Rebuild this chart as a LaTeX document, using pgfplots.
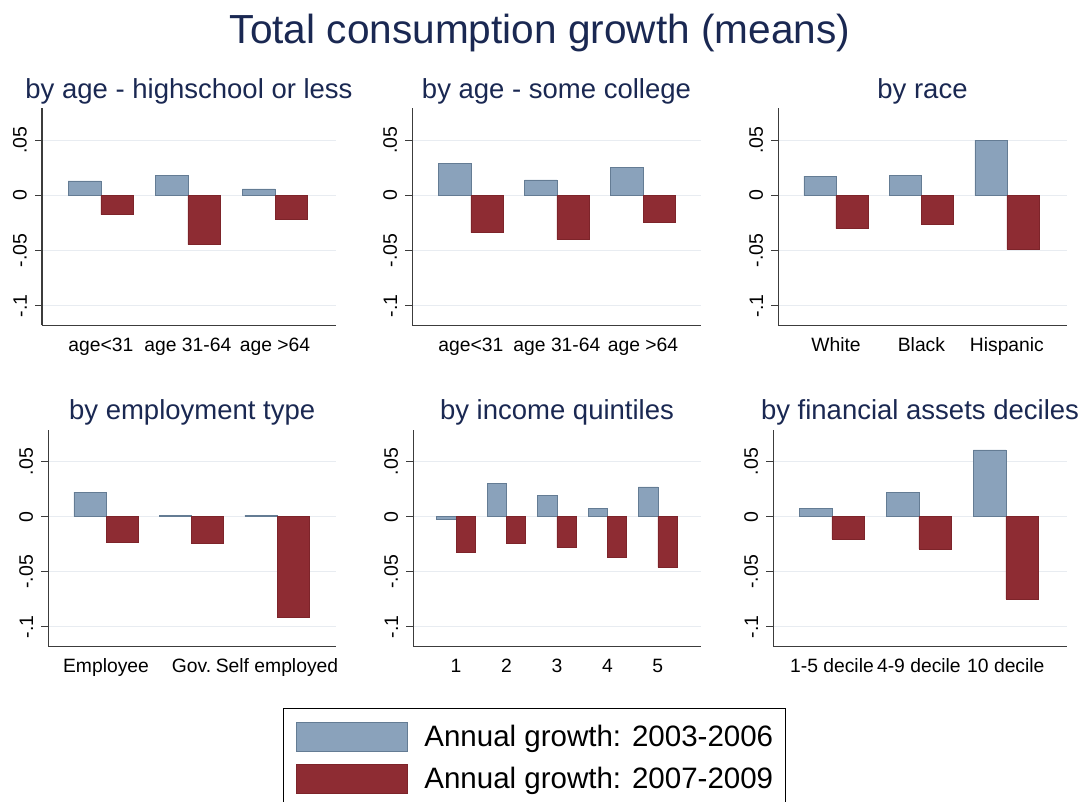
\documentclass[border=0pt]{standalone}
\usepackage{fontspec}
\setmainfont{Liberation Sans}
\usepackage{pgfplots}
\pgfplotsset{compat=1.18}

\definecolor{barblue}{RGB}{138,162,187}
\definecolor{barblueedge}{RGB}{100,124,148}
\definecolor{barred}{RGB}{142,44,51}
\definecolor{barrededge}{RGB}{125,36,42}
\definecolor{titlenavy}{RGB}{26,40,82}
\definecolor{gridc}{RGB}{232,236,241}
\definecolor{axisc}{RGB}{60,60,60}

\pgfplotsset{
  panel/.style={
    scale only axis, height=217pt, anchor=south west,
    ymin=-0.118, ymax=0.079,
    ytick={-0.1,-0.05,0,0.05}, yticklabels={-.1,-.05,0,.05},
    axis x line*=bottom, axis y line*=left,
    axis line style={axisc, line width=1.3pt},
    ymajorgrids, grid style={gridc, line width=1pt},
    tick align=outside, major tick length=7pt,
    xtick style={draw=none}, ytick style={axisc, line width=1pt},
    /pgf/number format/assume math mode=true,
    yticklabel style={rotate=90, anchor=south, inner sep=0pt, font=\fontsize{19.5}{20}\selectfont},
    yticklabel shift=8pt,
    xticklabel style={anchor=base, inner sep=0pt, font=\fontsize{19.3}{20}\selectfont},
    xticklabel shift=19pt,
    title style={at={(0.5,1)}, anchor=base, yshift=4pt, inner sep=0pt, text=titlenavy, font=\fontsize{27.5}{28}\selectfont},
  },
  legpatch/.style={legend image code/.code={\draw[##1,line width=0.8pt] (0pt,-14.25pt) rectangle (111pt,14.25pt);}},
  bblue/.style={ybar, bar width=0.375, bar shift=-0.1875, fill=barblue, draw=barblueedge, line width=0.6pt, legpatch},
  bred/.style={ybar, bar width=0.375, bar shift=0.1875, fill=barred, draw=barrededge, line width=0.6pt, legpatch},
}

\begin{document}
\begin{tikzpicture}
\useasboundingbox (0pt,0pt) rectangle (1088pt,802pt);
\node[anchor=base, inner sep=0pt, text=titlenavy, font=\fontsize{40.6}{44}\selectfont] at (540pt,758.5pt) {Total consumption growth (means)};

% Panel 1
\begin{axis}[panel, at={(42pt,476.5pt)}, width=294pt, xmin=-0.675, xmax=2.70,
  xtick={0,1,2}, xticklabels={age<31, age 31-64, age >64},
  title={by age - highschool or less}]
\addplot[bblue] coordinates {(0,0.0133) (1,0.0185) (2,0.0060)};
\addplot[bred] coordinates {(0,-0.0173) (1,-0.0445) (2,-0.0216)};
\end{axis}

% Panel 2
\begin{axis}[panel, at={(412.3pt,476.5pt)}, width=288.4pt, xmin=-0.68, xmax=2.67,
  xtick={0,1,2}, xticklabels={age<31, age 31-64, age >64},
  title={by age - some college}]
\addplot[bblue] coordinates {(0,0.0290) (1,0.0142) (2,0.0257)};
\addplot[bred] coordinates {(0,-0.0336) (1,-0.0400) (2,-0.0240)};
\end{axis}

% Panel 3
\begin{axis}[panel, at={(778.3pt,476.5pt)}, width=288.4pt, xmin=-0.675, xmax=2.70,
  xtick={0,1,2}, xticklabels={White, Black, Hispanic},
  title={by race}]
\addplot[bblue] coordinates {(0,0.0175) (1,0.0185) (2,0.0503)};
\addplot[bred] coordinates {(0,-0.0300) (1,-0.0264) (2,-0.0488)};
\end{axis}

% Panel 4
\begin{axis}[panel, at={(48.3pt,155.3pt)}, width=287.7pt, xmin=-0.675, xmax=2.69,
  xtick={0,1,2}, xticklabels={Employee, Gov., Self employed},
  title={by employment type}]
\addplot[bblue] coordinates {(0,0.0224) (1,0.0010) (2,0.0015)};
\addplot[bred] coordinates {(0,-0.0229) (1,-0.0238) (2,-0.0912)};
\end{axis}

% Panel 5
\begin{axis}[panel, at={(413.3pt,155.3pt)}, width=287.4pt, xmin=-0.847, xmax=4.85,
  xtick={0,1,2,3,4}, xticklabels={1,2,3,4,5},
  title={by income quintiles},
  legend style={at={(axis description cs:0,0)}, anchor=north west, xshift=-130.3pt, yshift=-61.3pt,
    draw=black, line width=1.2pt, font=\fontsize{29.5}{30}\selectfont,
    inner xsep=12pt, inner ysep=13.5pt, row sep=13pt, nodes={inner sep=0pt},
    /tikz/every odd column/.append style={column sep=17pt}},
  legend cell align=left]
\addplot[bblue, bar width=0.383, bar shift=-0.1915] coordinates {(0,-0.0020) (1,0.0300) (2,0.0190) (3,0.0072) (4,0.0270)};
\addlegendentry{Annual growth: 2003-2006}
\addplot[bred, bar width=0.383, bar shift=0.1915] coordinates {(0,-0.0320) (1,-0.0245) (2,-0.0280) (3,-0.0365) (4,-0.0460)};
\addlegendentry{Annual growth: 2007-2009}
\end{axis}

% Panel 6
\begin{axis}[panel, at={(773.3pt,155.3pt)}, width=293.4pt, xmin=-0.675, xmax=2.70,
  xtick={0,1,2}, xticklabels={1-5 decile, 4-9 decile, 10 decile},
  title={by financial assets deciles}]
\addplot[bblue] coordinates {(0,0.0075) (1,0.0220) (2,0.0607)};
\addplot[bred] coordinates {(0,-0.0202) (1,-0.0293) (2,-0.0749)};
\end{axis}
\end{tikzpicture}
\end{document}
